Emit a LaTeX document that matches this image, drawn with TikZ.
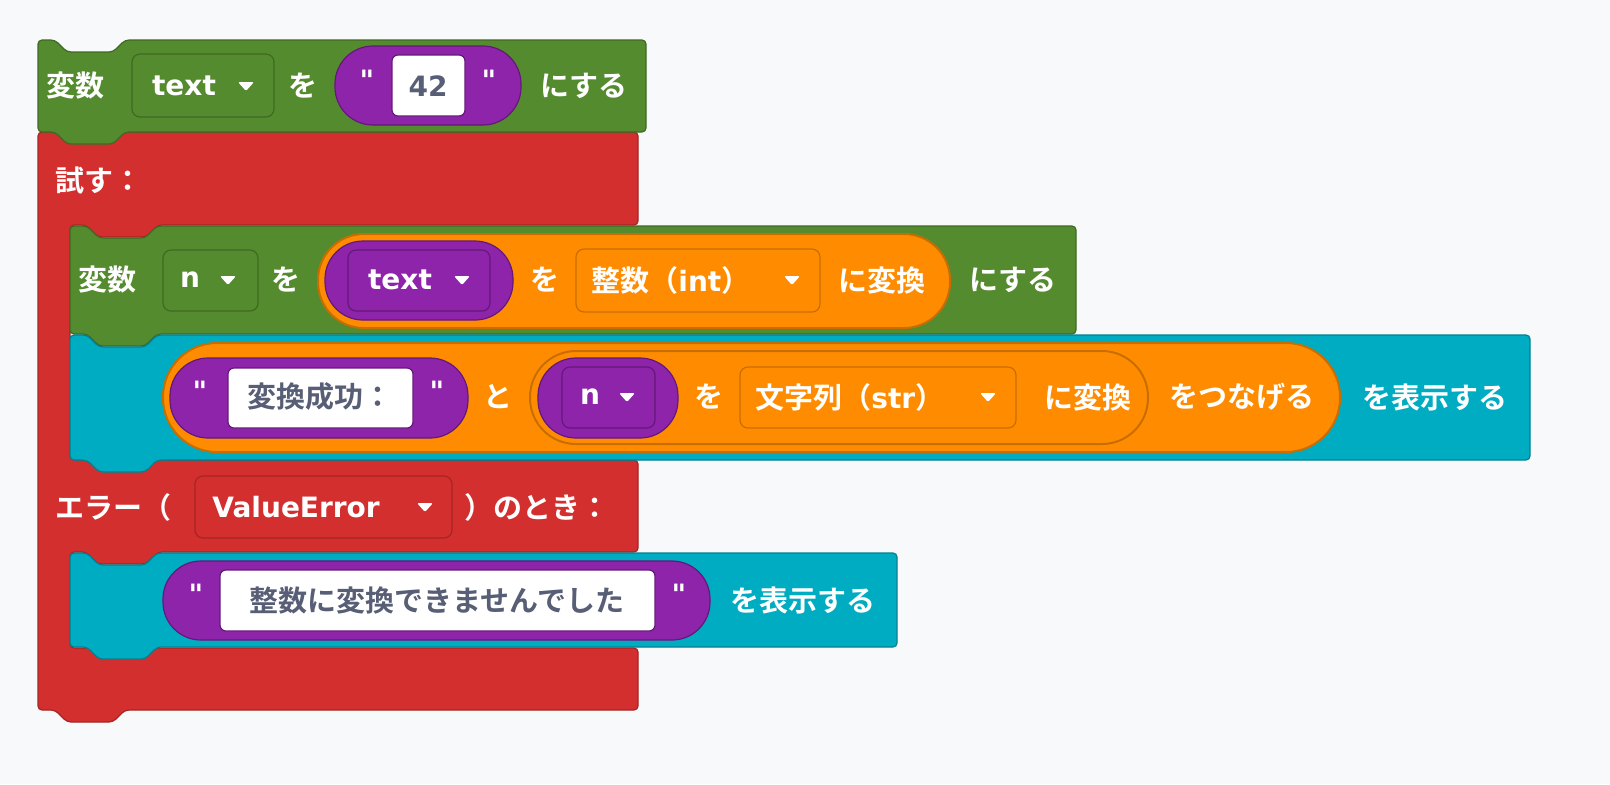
\documentclass[tikz,border=0pt]{standalone}
\usepackage{fontspec}
\setmainfont{DejaVu Sans}
\newfontfamily\jpfont{Noto Sans CJK JP Bold}
\newfontfamily\latfont{DejaVu Sans Bold}
\definecolor{bgc}{HTML}{F8F9FB}
\definecolor{vargreen}{HTML}{558B2F}
\definecolor{vargreenb}{HTML}{3E6A22}
\definecolor{tryred}{HTML}{D32F2F}
\definecolor{tryredb}{HTML}{A52525}
\definecolor{printcyan}{HTML}{00ACC1}
\definecolor{printcyanb}{HTML}{00818F}
\definecolor{convorange}{HTML}{FF8C00}
\definecolor{convorangeb}{HTML}{C86E00}
\definecolor{strpurple}{HTML}{8E24AA}
\definecolor{strpurpleb}{HTML}{64187A}
\definecolor{fieldtext}{HTML}{575E75}
\tikzset{
  lbl/.style={text=white, font=\fontsize{14.5pt}{17pt}\jpfont, inner sep=0pt},
  fld/.style={text=fieldtext, font=\fontsize{14.5pt}{17pt}\jpfont, inner sep=0pt},
}
\newcommand{\lat}[1]{{\latfont\fontsize{14pt}{17pt}\selectfont #1}}
% statement block with top notch and bottom tab
\newcommand{\stmtblock}[6]{%
  \draw[fill=#5, draw=#6, line width=0.6pt, rounded corners=2pt]
    (#1,#2) -- ({#1+17},#2) -- ({#1+29},{#2+12}) -- ({#1+75},{#2+12}) -- ({#1+87},#2)
    -- (#3,#2) -- (#3,#4) -- ({#1+87},#4) -- ({#1+75},{#4+12}) -- ({#1+29},{#4+12})
    -- ({#1+17},#4) -- (#1,#4) -- cycle;}
\newcommand{\dropmark}[2]{%
  \fill[white, rounded corners=1pt] ({#1-8},{#2-4}) -- ({#1+8},{#2-4}) -- (#1,{#2+5}) -- cycle;}
\begin{document}
\begin{tikzpicture}[x=0.5pt,y=-0.5pt]
\fill[bgc] (0,0) rectangle (1610,784);
\useasboundingbox (0,0) rectangle (1610,784);
% try / except
\draw[fill=tryred, draw=tryredb, line width=0.6pt, rounded corners=2pt]
  (38,132) -- (638,132) -- (638,225) -- (158,225) -- (146,237) -- (98,237) -- (86,225)
  -- (70,225) -- (70,460) -- (638,460) -- (638,552) -- (158,552) -- (146,564) -- (98,564)
  -- (86,552) -- (70,552) -- (70,648) -- (638,648) -- (638,710) -- (125,710) -- (113,722)
  -- (67,722) -- (55,710) -- (38,710) -- cycle;
\node[lbl, anchor=west] (trylbl) at (55,180) {試す：};
\node[lbl, anchor=west] (exclbl) at (55,507) {エラー（};
\draw[fill=tryred, draw=tryredb, line width=0.6pt, rounded corners=4pt] (195,476) rectangle (452,538);
\node[lbl, anchor=west] (errtype) at (212,507) {\lat{ValueError}};
\dropmark{425}{507}
\node[lbl, anchor=west] (exctail) at (464,507) {）のとき：};
% top assignment
\stmtblock{38}{40}{646}{132}{vargreen}{vargreenb}
\node[lbl] (set1) at (75,86) {変数};
\draw[fill=vargreen, draw=vargreenb, line width=0.6pt, rounded corners=4pt] (132,54) rectangle (274,117);
\node[lbl] (var1) at (184,86) {\lat{text}};
\dropmark{246}{86}
\node[lbl] (wo1) at (303,86) {を};
\draw[fill=strpurple, draw=strpurpleb, line width=0.6pt, rounded corners=19pt] (335,46) rectangle (521,125);
\node[lbl] (q1a) at (367,80) {\lat{"}};
\draw[fill=white, draw=strpurpleb, line width=0.6pt, rounded corners=3pt] (392,55) rectangle (465,116);
\node[fld] (num42) at (428,86) {\lat{42}};
\node[lbl] (q1b) at (489,80) {\lat{"}};
\node[lbl] (suru1) at (584,86) {にする};
% inner assignment
\stmtblock{70}{226}{1076}{334}{vargreen}{vargreenb}
\node[lbl] (set2) at (107,280) {変数};
\draw[fill=vargreen, draw=vargreenb, line width=0.6pt, rounded corners=4pt] (163,250) rectangle (258,311);
\node[lbl] (var2) at (190,280) {\lat{n}};
\dropmark{228}{280}
\node[lbl] (wo2) at (286,280) {を};
\draw[fill=convorange, draw=convorangeb, line width=1pt, rounded corners=23pt] (318,234) rectangle (950,328);
\draw[fill=strpurple, draw=strpurpleb, line width=0.6pt, rounded corners=19pt] (325,241) rectangle (513,320);
\draw[fill=strpurple, draw=strpurpleb, line width=0.6pt, rounded corners=4pt] (348,250) rectangle (490,311);
\node[lbl] (var3) at (400,280) {\lat{text}};
\dropmark{462}{280}
\node[lbl] (wo3) at (545,280) {を};
\draw[fill=convorange, draw=convorangeb, line width=0.6pt, rounded corners=4pt] (576,249) rectangle (820,312);
\node[lbl, anchor=west] (tint) at (591,280) {整数（\lat{int}）};
\dropmark{792}{280}
\node[lbl] (conv1) at (882,280) {に変換};
\node[lbl] (suru2) at (1013,280) {にする};
% first print
\stmtblock{70}{335}{1530}{460}{printcyan}{printcyanb}
\draw[fill=convorange, draw=convorangeb, line width=1pt, rounded corners=27pt] (163,343) rectangle (1340,452);
\draw[fill=strpurple, draw=strpurpleb, line width=0.6pt, rounded corners=19pt] (170,358) rectangle (468,438);
\node[lbl] (q2a) at (200,391) {\lat{"}};
\draw[fill=white, draw=strpurpleb, line width=0.6pt, rounded corners=3pt] (228,368) rectangle (413,428);
\node[fld] (okmsg) at (320,397) {変換成功：};
\node[lbl] (q2b) at (437,391) {\lat{"}};
\node[lbl] (to1) at (498,397) {と};
\draw[fill=convorange, draw=convorangeb, line width=1pt, rounded corners=23pt] (530,351) rectangle (1148,444);
\draw[fill=strpurple, draw=strpurpleb, line width=0.6pt, rounded corners=19pt] (538,358) rectangle (678,438);
\draw[fill=strpurple, draw=strpurpleb, line width=0.6pt, rounded corners=4pt] (562,367) rectangle (655,428);
\node[lbl] (var4) at (590,397) {\lat{n}};
\dropmark{627}{397}
\node[lbl] (wo4) at (709,397) {を};
\draw[fill=convorange, draw=convorangeb, line width=0.6pt, rounded corners=4pt] (740,367) rectangle (1016,428);
\node[lbl, anchor=west] (tstr) at (755,397) {文字列（\lat{str}）};
\dropmark{988}{397}
\node[lbl] (conv2) at (1088,397) {に変換};
\node[lbl] (join1) at (1242,397) {をつなげる};
\node[lbl] (show1) at (1435,397) {を表示する};
% second print
\stmtblock{70}{553}{897}{647}{printcyan}{printcyanb}
\draw[fill=strpurple, draw=strpurpleb, line width=0.6pt, rounded corners=19pt] (163,561) rectangle (710,640);
\node[lbl] (q3a) at (196,594) {\lat{"}};
\draw[fill=white, draw=strpurpleb, line width=0.6pt, rounded corners=3pt] (220,570) rectangle (655,631);
\node[fld] (ngmsg) at (437,600) {整数に変換できませんでした};
\node[lbl] (q3b) at (679,594) {\lat{"}};
\node[lbl] (show2) at (803,600) {を表示する};
\end{tikzpicture}
\end{document}
